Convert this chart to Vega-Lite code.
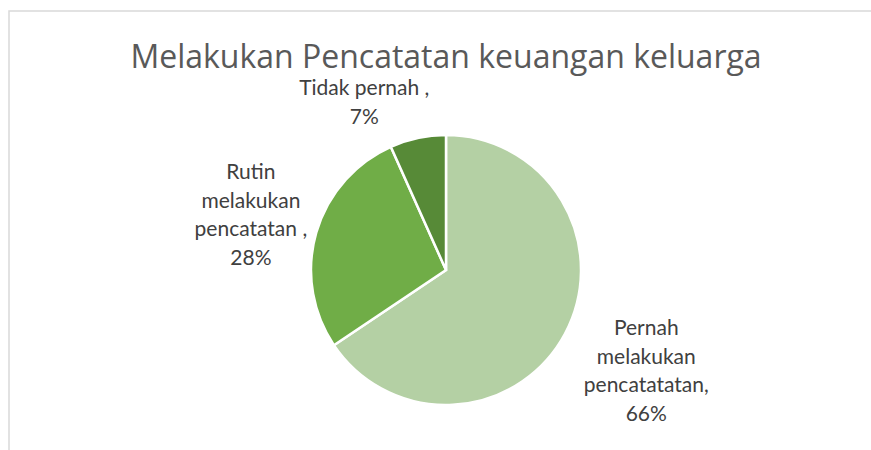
{
  "$schema": "https://vega.github.io/schema/vega-lite/v6.json",
  "autosize": {"type": "none"},
  "width": 874,
  "height": 518,
  "padding": {"left": 9, "top": 11, "right": 0, "bottom": 0},
  "background": "white",
  "view": {"stroke": "#d9d9d9", "strokeWidth": 1.5, "fill": "white"},
  "config": {"view": {"stroke": "#d9d9d9", "strokeWidth": 1.5}},
  "title": {
    "text": "Melakukan Pencatatan keuangan keluarga",
    "anchor": "middle",
    "frame": "group",
    "orient": "top",
    "offset": -64,
    "font": "Open Sans",
    "fontSize": 32,
    "fontWeight": "normal",
    "color": "#595959"
  },
  "data": {
    "values": [
      {"kategori": "Pernah melakukan pencatatatan", "nilai": 65.6, "order": 1, "label": "Pernah\nmelakukan\npencatatatan,\n66%"},
      {"kategori": "Rutin melakukan pencatatan", "nilai": 27.7, "order": 2, "label": "Rutin\nmelakukan\npencatatan ,\n28%"},
      {"kategori": "Tidak pernah", "nilai": 6.7, "order": 3, "label": "Tidak pernah ,\n7%"}
    ]
  },
  "encoding": {
    "theta": {"field": "nilai", "type": "quantitative", "stack": true},
    "order": {"field": "order", "type": "quantitative"}
  },
  "layer": [
    {
      "mark": {"type": "arc", "outerRadius": 135, "stroke": "white", "strokeWidth": 2.5},
      "encoding": {
        "color": {
          "field": "kategori",
          "type": "nominal",
          "scale": {
            "domain": ["Pernah melakukan pencatatatan", "Rutin melakukan pencatatan", "Tidak pernah"],
            "range": ["#b4d0a4", "#70ad47", "#578a37"]
          },
          "legend": null
        }
      }
    },
    {
      "mark": {
        "type": "text",
        "radius": {"expr": "datum.order == 1 ? 227 : datum.order == 2 ? 203 : 184"},
        "thetaOffset": {"expr": "datum.order == 3 ? -0.25 : 0"},
        "dy": {"expr": "datum.order == 3 ? -16 : datum.order == 1 ? -48 : -41"},
        "lineBreak": "\n", "font": "Lato", "fontSize": 21, "lineHeight": 28.7,
        "color": "#404040", "align": "center", "baseline": "middle"
      },
      "encoding": {"text": {"field": "label"}}
    }
  ]
}
